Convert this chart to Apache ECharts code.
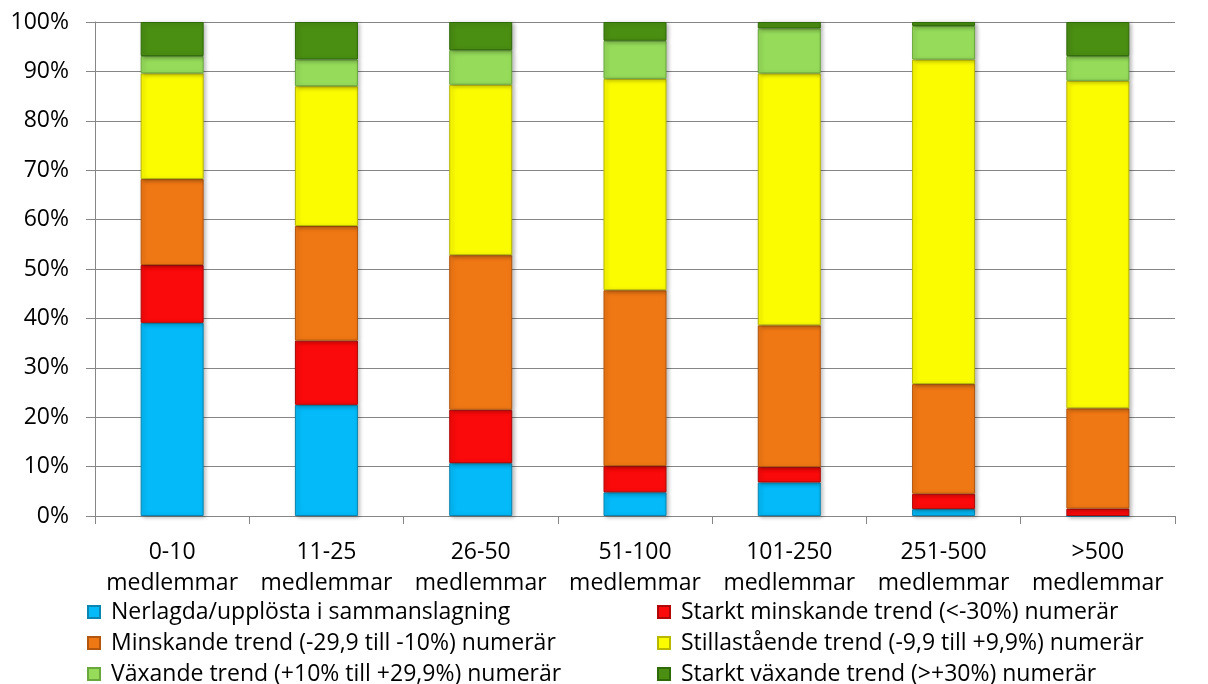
<!DOCTYPE html>
<html>
<head>
<meta charset="utf-8">
<script src="https://cdn.jsdelivr.net/npm/echarts@6/dist/echarts.min.js"></script>
<style>html,body{margin:0;padding:0;background:#fff;}#c{width:1208px;height:684px;}</style>
</head>
<body>
<div id="c"></div>
<script>
const categories = ['0-10\nmedlemmar','11-25\nmedlemmar','26-50\nmedlemmar','51-100\nmedlemmar','101-250\nmedlemmar','251-500\nmedlemmar','>500\nmedlemmar'];
const seriesNames = [
  'Nerlagda/upplösta i sammanslagning',
  'Starkt minskande trend (<-30%) numerär',
  'Minskande trend (-29,9 till -10%) numerär',
  'Stillastående trend (-9,9 till +9,9%) numerär',
  'Växande trend (+10% till +29,9%) numerär',
  'Starkt växande trend (>+30%) numerär'
];
const nerlagda   = [39.1, 22.5, 10.7, 4.8, 6.8, 1.4, 0];
const starktMinskande = [11.7, 13.0, 10.8, 5.3, 3.1, 3.1, 1.5];
const minskande  = [17.4, 23.2, 31.3, 35.6, 28.7, 22.2, 20.3];
const stillastaende = [21.4, 28.3, 34.5, 42.8, 51.0, 65.7, 66.3];
const vaxande    = [3.5, 5.4, 7.0, 7.7, 9.1, 6.8, 5.0];
const starktVaxande = [6.9, 7.6, 5.7, 3.8, 1.3, 0.8, 6.9];
const yTicks = [0,10,20,30,40,50,60,70,80,90,100];

const colors = ['#04BAF8','#FA0A0A','#F07814','#FCFC00','#96DC5A','#4A8E12'];
const borders = ['#0a86b0','#b00808','#b3560e','#b8b800','#6aa73c','#2f6a08'];
const dataSets = [nerlagda, starktMinskande, minskande, stillastaende, vaxande, starktVaxande];

const FONT = 'Open Sans';
const series = dataSets.map((d, i) => ({
  name: seriesNames[i],
  type: 'bar',
  stack: 'total',
  barWidth: 63,
  data: d,
  itemStyle: {
    color: colors[i],
    borderColor: borders[i],
    borderWidth: 1,
    shadowColor: 'rgba(0,0,0,0.28)',
    shadowBlur: 4,
    shadowOffsetX: 2,
    shadowOffsetY: 1
  }
}));

const chart = echarts.init(document.getElementById('c'), null, {renderer: 'canvas'});
const legendCommon = {
  orient: 'vertical',
  top: 600,
  height: 100,
  padding: 0,
  itemWidth: 12,
  itemHeight: 12,
  itemGap: 7,
  icon: 'rect',
  selectedMode: false,
  textStyle: {fontFamily: FONT, fontSize: 23, color: '#000', lineHeight: 24, padding: [0,0,0,6]}
};
chart.setOption({
  animation: false,
  color: colors,
  grid: {left: 95, right: 33, top: 22, bottom: 168, containLabel: false},
  legend: [
    Object.assign({}, legendCommon, {left: 87, data: [seriesNames[0], seriesNames[2], seriesNames[4]]}),
    Object.assign({}, legendCommon, {left: 657, data: [seriesNames[1], seriesNames[3], seriesNames[5]]})
  ],
  xAxis: {
    type: 'category',
    data: categories,
    axisLine: {lineStyle: {color: '#868686', width: 1}},
    axisTick: {show: true, alignWithLabel: false, length: 8, lineStyle: {color: '#868686'}},
    axisLabel: {fontFamily: FONT, fontSize: 23, color: '#000', lineHeight: 31, margin: 21, interval: 0}
  },
  yAxis: {
    type: 'value',
    min: yTicks[0],
    max: yTicks[yTicks.length - 1],
    interval: 10,
    axisLine: {show: true, lineStyle: {color: '#868686', width: 1}},
    axisTick: {show: true, length: 9, lineStyle: {color: '#868686'}},
    splitLine: {lineStyle: {color: '#868686', width: 1}},
    axisLabel: {fontFamily: FONT, fontSize: 23, color: '#000', margin: 26, formatter: '{value}%'}
  },
  series: series
});
</script>
</body>
</html>
